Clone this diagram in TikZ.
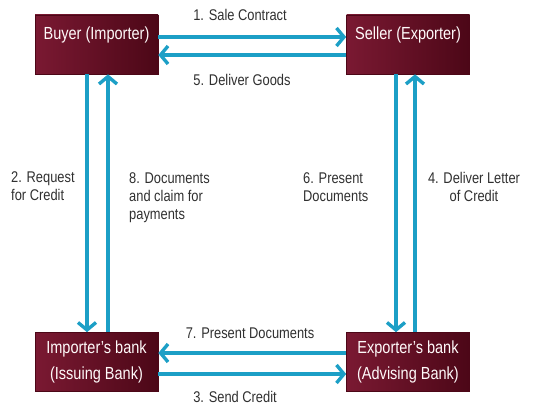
\documentclass[tikz,border=0pt]{standalone}
\usepackage{fontspec}
\setmainfont{Liberation Sans}[FakeStretch=0.83]
\usetikzlibrary{arrows.meta}

\definecolor{boxred}{HTML}{7A1932}
\definecolor{boxdark}{HTML}{4C0717}
\definecolor{flowblue}{HTML}{1C9FC6}
\definecolor{labelgray}{HTML}{303030}

\tikzset{
  party/.style={draw=boxdark, line width=0.6pt, left color=boxred, right color=boxdark,
    minimum width=123pt, minimum height=59pt, align=center, text=white!92!pink,
    font=\fontsize{17.5}{26}\selectfont},
  toptext/.style={text height=13pt, text depth=23pt},
  flow/.style={draw=flowblue, line width=3.4pt, -{Straight Barb[length=7.5pt,width=18pt]}},
  steplabel/.style={text=labelgray, font=\fontsize{15.5}{18}\selectfont, inner sep=0pt}
}

\begin{document}
\begin{tikzpicture}[x=1pt, y=-1pt]
\useasboundingbox (0,0) rectangle (559,406);
% Draw the four parties
\node[party, toptext] (buyer) at (96.5,44.5) {Buyer (Importer)};
\node[party, toptext] (seller) at (408,44.5) {Seller (Exporter)};
\node[party] (ibank) at (96.5,362) {Importer’s bank\\(Issuing Bank)};
\node[party] (ebank) at (408,362) {Exporter’s bank\\(Advising Bank)};
% Draw flows between buyer and seller
\draw[flow] ([yshift=7.5pt]buyer.east) -- ([yshift=7.5pt]seller.west);
\draw[flow] ([yshift=-10.5pt]seller.west) -- ([yshift=-10.5pt]buyer.east);
% Draw flows between the banks
\draw[flow] ([yshift=9pt]ebank.west) -- ([yshift=9pt]ibank.east);
\draw[flow] ([yshift=-12pt]ibank.east) -- ([yshift=-12pt]ebank.west);
% Draw flows on the importer side
\draw[flow] ([xshift=-9.5pt]buyer.south) -- ([xshift=-9.5pt]ibank.north);
\draw[flow] ([xshift=11.5pt]ibank.north) -- ([xshift=11.5pt]buyer.south);
% Draw flows on the exporter side
\draw[flow] ([xshift=-12pt]seller.south) -- ([xshift=-12pt]ebank.north);
\draw[flow] ([xshift=7pt]ebank.north) -- ([xshift=7pt]seller.south);
% Step labels
\node[steplabel] (salecontract) at (240,15) {1. Sale Contract};
\node[steplabel] (delivergoods) at (242,80) {5. Deliver Goods};
\node[steplabel] (presentdocs) at (250,333) {7. Present Documents};
\node[steplabel] (sendcredit) at (235,396.5) {3. Send Credit};
\node[steplabel, anchor=west, align=left] (requestcredit) at (11,186) {2. Request\\for Credit};
\node[steplabel, anchor=west, align=left] (claimdocs) at (129,198) {8. Documents\\and claim for\\payments};
\node[steplabel, anchor=west, align=left] (presentside) at (303,187) {6. Present\\Documents};
\node[steplabel, align=center] (deliverletter) at (474,187) {4. Deliver Letter\\of Credit};
\end{tikzpicture}
\end{document}
